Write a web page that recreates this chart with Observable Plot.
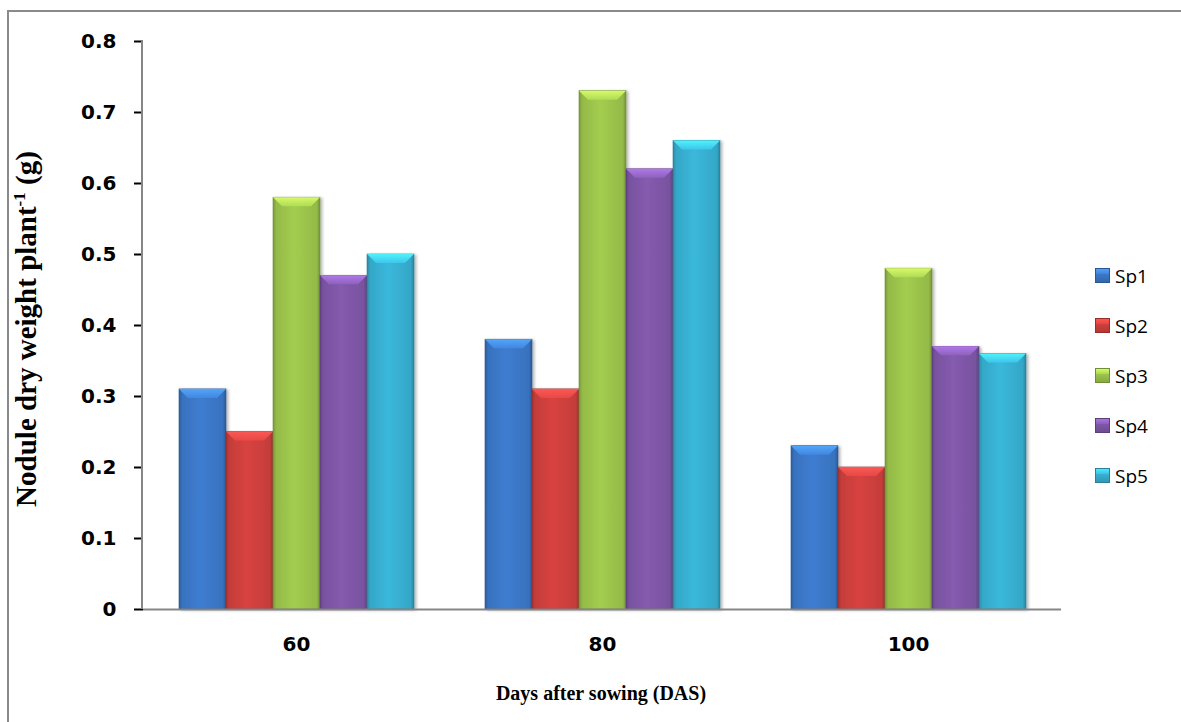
<!DOCTYPE html>
<html>
<head>
<meta charset="utf-8">
<script src="https://cdn.jsdelivr.net/npm/d3@7"></script>
<script src="https://cdn.jsdelivr.net/npm/@observablehq/plot@0.6"></script>
<style>
  body { margin: 0; background: #fff; }
  #wrap { position: relative; width: 1181px; height: 722px; overflow: hidden; background: #fff; }
  #border { position: absolute; left: 7px; top: 10px; width: 1200px; height: 800px;
            border-left: 2px solid #8a8a8a; border-top: 2px solid #8a8a8a; }
  #chart { position: absolute; left: 0; top: 0; }
  #legend { position: absolute; left: 1095px; top: 0; font-family: "Open Sans", sans-serif; font-size: 19px; color: #000; }
  .item { position: absolute; left: 0; height: 24px; white-space: nowrap; }
  .sw { position: absolute; left: 0; top: 4px; width: 15px; height: 15px; box-sizing: border-box; }
  .lab { position: absolute; left: 20px; top: -3px; line-height: 30px; }
  [aria-label="y-axis tick"] { stroke: #868686; stroke-width: 2px; }
</style>
</head>
<body>
<div id="wrap">
  <div id="border"></div>
  <div id="chart"></div>
  <div id="legend"></div>
</div>
<script>
// Nodule dry weight per plant (g) for five species at three sampling dates
const days = ["60", "80", "100"];
const species = ["Sp1", "Sp2", "Sp3", "Sp4", "Sp5"];
const sp1 = [0.31, 0.38, 0.23];
const sp2 = [0.25, 0.31, 0.20];
const sp3 = [0.58, 0.73, 0.48];
const sp4 = [0.47, 0.62, 0.37];
const sp5 = [0.50, 0.66, 0.36];
const yTicks = [0, 0.1, 0.2, 0.3, 0.4, 0.5, 0.6, 0.7, 0.8];
const colors = ["#3b78c8", "#cf403d", "#9cc44c", "#7f57a8", "#38b0d2"];

const series = [sp1, sp2, sp3, sp4, sp5];
const rows = [];
days.forEach((d, i) => species.forEach((s, j) => rows.push({ day: d, sp: s, value: series[j][i] })));

const chart = Plot.plot({
  width: 1181,
  height: 722,
  marginLeft: 142,
  marginRight: 119,
  marginTop: 41,
  marginBottom: 113,
  style: { fontFamily: "DejaVu Sans", fontSize: "20px", fontWeight: "bold", color: "#000", background: "transparent" },
  fx: { domain: days, padding: 0, label: null, tickSize: 0, tickPadding: 27 },
  x: { domain: species, paddingInner: 0, paddingOuter: 0.75, axis: null },
  y: { domain: [0, 0.8], ticks: yTicks, tickSize: 9, tickPadding: 18, label: null,
       tickFormat: v => v === 0 ? "0" : d3.format(".1f")(v) },
  color: { domain: species, range: colors },
  marks: [
    Plot.barY(rows, { fx: "day", x: "sp", y: "value", fill: "sp" }),
    Plot.ruleY([0], { stroke: "#868686", strokeWidth: 2 })
  ]
});
document.getElementById("chart").appendChild(chart);

// Bevelled bar styling: side shading gradient and a lighter trapezoid cap
const svg = d3.select(chart);
const defs = svg.insert("defs", ":first-child");
colors.forEach((c, i) => {
  const base = d3.color(c);
  const g = defs.append("linearGradient").attr("id", "side" + i).attr("x1", 0).attr("x2", 1).attr("y1", 0).attr("y2", 0);
  [[0, base.darker(0.7)], [0.07, base.darker(0.15)], [0.45, base.brighter(0.12)], [0.93, base.darker(0.15)], [1, base.darker(0.8)]]
    .forEach(([o, col]) => g.append("stop").attr("offset", o).attr("stop-color", col.formatHex()));
  const t = defs.append("linearGradient").attr("id", "cap" + i).attr("x1", 0).attr("x2", 0).attr("y1", 0).attr("y2", 1);
  [[0, base.brighter(1.0)], [1, base.brighter(0.35)]]
    .forEach(([o, col]) => t.append("stop").attr("offset", o).attr("stop-color", col.formatHex()));
});
const shadow = defs.append("filter").attr("id", "shadow").attr("x", "-10%").attr("y", "-10%").attr("width", "130%").attr("height", "130%");
shadow.append("feDropShadow").attr("dx", 2).attr("dy", 1).attr("stdDeviation", 1.5).attr("flood-color", "#000").attr("flood-opacity", 0.3);

svg.selectAll('g[aria-label="bar"] rect').each(function () {
  const r = d3.select(this);
  const idx = colors.indexOf(d3.color(r.attr("fill")).formatHex());
  const x = +r.attr("x"), y = +r.attr("y"), w = +r.attr("width"), h = +r.attr("height");
  r.attr("fill", `url(#side${idx})`).attr("filter", "url(#shadow)")
   .attr("stroke", d3.color(colors[idx]).darker(0.9).formatHex()).attr("stroke-width", 0.6);
  const b = Math.min(9, h / 2);
  d3.select(this.parentNode).append("polygon")
    .attr("points", [[x, y], [x + w, y], [x + w - b, y + b], [x + b, y + b]].map(p => p.join(",")).join(" "))
    .attr("fill", `url(#cap${idx})`).attr("opacity", 0.9);
});

// Vertical axis line along the left edge of the plot area
const yScale = chart.scale("y");
svg.append("line")
  .attr("x1", 142).attr("x2", 142)
  .attr("y1", yScale.apply(0)).attr("y2", yScale.apply(0.8))
  .attr("stroke", "#868686").attr("stroke-width", 2);

// Axis titles
svg.append("text")
  .attr("transform", "translate(36,329) rotate(-90)")
  .attr("text-anchor", "middle")
  .style("font-family", "'Liberation Serif', serif").style("font-size", "29px").style("font-weight", "bold")
  .call(t => {
    t.append("tspan").text("Nodule dry weight plant");
    t.append("tspan").attr("dy", -11).style("font-size", "17px").text("-1");
    t.append("tspan").attr("dy", 11).text(" (g)");
  });
svg.append("text")
  .attr("x", 601).attr("y", 700)
  .attr("text-anchor", "middle")
  .style("font-family", "'Liberation Serif', serif").style("font-size", "20px").style("font-weight", "bold")
  .text("Days after sowing (DAS)");

// Legend
const legend = document.getElementById("legend");
const rowTops = [264, 314, 364, 414, 464];
species.forEach((s, i) => {
  const c = d3.color(colors[i]);
  const item = document.createElement("div");
  item.className = "item";
  item.style.top = rowTops[i] + "px";
  const sw = document.createElement("div");
  sw.className = "sw";
  sw.style.background = `linear-gradient(to bottom, ${c.brighter(0.8).formatHex()} 0%, ${c.brighter(0.3).formatHex()} 35%, ${c.formatHex()} 40%, ${c.darker(0.4).formatHex()} 100%)`;
  sw.style.border = `1px solid ${c.darker(0.9).formatHex()}`;
  const lab = document.createElement("div");
  lab.className = "lab";
  lab.textContent = s;
  item.appendChild(sw);
  item.appendChild(lab);
  legend.appendChild(item);
});
</script>
</body>
</html>
